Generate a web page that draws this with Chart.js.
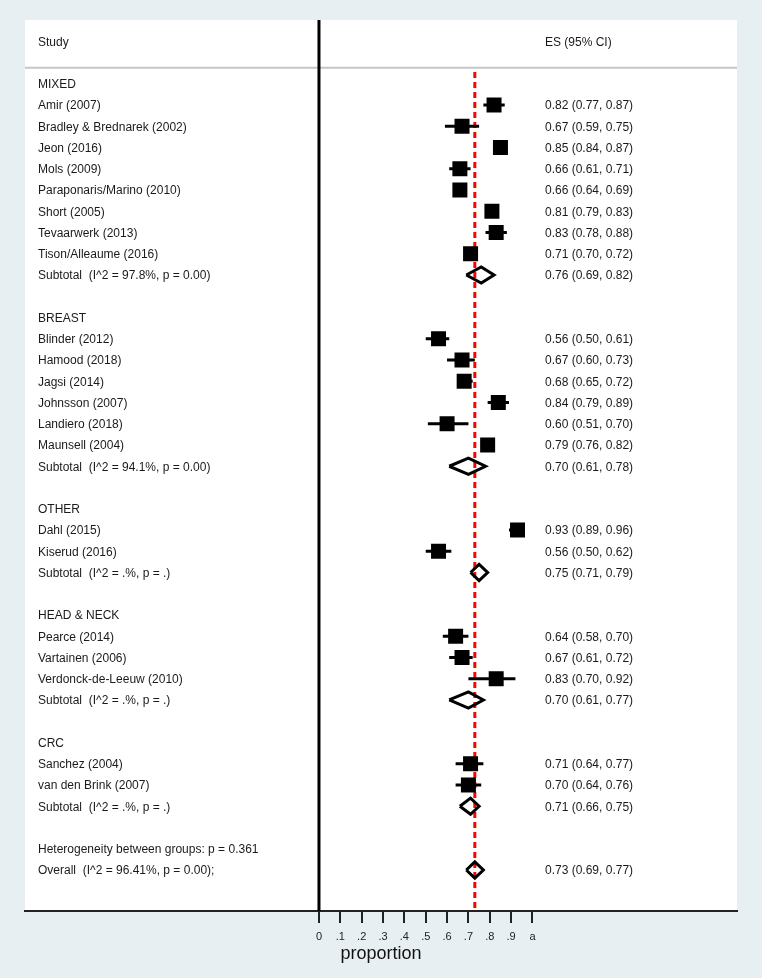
<!DOCTYPE html>
<html>
<head>
<meta charset="utf-8">
<script src="https://cdn.jsdelivr.net/npm/chart.js@4.4.0/dist/chart.umd.min.js"></script>
<style>
  html, body { margin: 0; padding: 0; background: #e8eff2; }
  #wrap { width: 762px; height: 978px; position: relative; }
</style>
</head>
<body>
<div id="wrap"><canvas id="forestChart"></canvas></div>
<script>
// data
var groups = ['MIXED', 'BREAST', 'OTHER', 'HEAD & NECK', 'CRC'];
var studies = [
  'Amir (2007)', 'Bradley & Brednarek (2002)', 'Jeon (2016)', 'Mols (2009)',
  'Paraponaris/Marino (2010)', 'Short (2005)', 'Tevaarwerk (2013)', 'Tison/Alleaume (2016)',
  'Blinder (2012)', 'Hamood (2018)', 'Jagsi (2014)', 'Johnsson (2007)', 'Landiero (2018)', 'Maunsell (2004)',
  'Dahl (2015)', 'Kiserud (2016)',
  'Pearce (2014)', 'Vartainen (2006)', 'Verdonck-de-Leeuw (2010)',
  'Sanchez (2004)', 'van den Brink (2007)'
];
var studyGroup = [0, 0, 0, 0, 0, 0, 0, 0, 1, 1, 1, 1, 1, 1, 2, 2, 3, 3, 3, 4, 4];
var es = [0.82, 0.67, 0.85, 0.66, 0.66, 0.81, 0.83, 0.71, 0.56, 0.67, 0.68, 0.84, 0.60, 0.79, 0.93, 0.56, 0.64, 0.67, 0.83, 0.71, 0.70];
var lo = [0.77, 0.59, 0.84, 0.61, 0.64, 0.79, 0.78, 0.70, 0.50, 0.60, 0.65, 0.79, 0.51, 0.76, 0.89, 0.50, 0.58, 0.61, 0.70, 0.64, 0.64];
var hi = [0.87, 0.75, 0.87, 0.71, 0.69, 0.83, 0.88, 0.72, 0.61, 0.73, 0.72, 0.89, 0.70, 0.82, 0.96, 0.62, 0.70, 0.72, 0.92, 0.77, 0.76];

var subLabels = [
  'Subtotal  (I^2 = 97.8%, p = 0.00)',
  'Subtotal  (I^2 = 94.1%, p = 0.00)',
  'Subtotal  (I^2 = .%, p = .)',
  'Subtotal  (I^2 = .%, p = .)',
  'Subtotal  (I^2 = .%, p = .)'
];
var subEs = [0.76, 0.70, 0.75, 0.70, 0.71];
var subLo = [0.69, 0.61, 0.71, 0.61, 0.66];
var subHi = [0.82, 0.78, 0.79, 0.77, 0.75];

var hetText = 'Heterogeneity between groups: p = 0.361';
var overallLabel = 'Overall  (I^2 = 96.41%, p = 0.00);';
var overallEs = 0.73, overallLo = 0.69, overallHi = 0.77;

var tickVals = [0, 0.1, 0.2, 0.3, 0.4, 0.5, 0.6, 0.7, 0.8, 0.9, 1];
var tickLabels = ['0', '.1', '.2', '.3', '.4', '.5', '.6', '.7', '.8', '.9', 'a'];

// row layout (one row per line of text)
var rows = [];   // {label, est, lo, hi, kind}
groups.forEach(function (g, gi) {
  rows.push({ label: g, kind: 'head' });
  studies.forEach(function (s, i) {
    if (studyGroup[i] === gi) rows.push({ label: s, est: es[i], lo: lo[i], hi: hi[i], kind: 'study' });
  });
  rows.push({ label: subLabels[gi], est: subEs[gi], lo: subLo[gi], hi: subHi[gi], kind: 'sub' });
  rows.push({ label: '', kind: 'blank' });
});
rows.push({ label: hetText, kind: 'head' });
rows.push({ label: overallLabel, est: overallEs, lo: overallLo, hi: overallHi, kind: 'sub' });

var yMin = -3, yMax = 38.93;
var xMin = -1.377, xMax = 1.958;
var dh = 0.38; // diamond half height in rows

var whiskers = [], squares = [], diamonds = [];
rows.forEach(function (r, i) {
  if (r.kind === 'study') {
    whiskers.push({ x: r.lo, y: i }, { x: r.hi, y: i }, { x: r.hi, y: null });
    squares.push({ x: r.est, y: i });
  } else if (r.kind === 'sub') {
    diamonds.push({ x: r.lo, y: i }, { x: r.est, y: i - dh }, { x: r.hi, y: i },
      { x: r.est, y: i + dh }, { x: r.lo, y: i }, { x: r.lo, y: null });
  }
});

var FONT = '"Liberation Sans", Arial, Helvetica, sans-serif';

var bgPlugin = {
  id: 'bg',
  beforeDraw: function (chart) {
    var c = chart.ctx, a = chart.chartArea;
    c.save();
    c.fillStyle = '#e8eff2';
    c.fillRect(0, 0, chart.width, chart.height);
    c.fillStyle = '#ffffff';
    c.fillRect(a.left, a.top, a.right - a.left, a.bottom - a.top);
    c.restore();
  }
};

var textPlugin = {
  id: 'rowText',
  afterDatasetsDraw: function (chart) {
    var c = chart.ctx, y = chart.scales.y, a = chart.chartArea;
    c.save();
    c.font = '12px ' + FONT;
    c.fillStyle = '#1a1a1a';
    c.textBaseline = 'middle';
    c.textAlign = 'left';
    c.fillText('Study', a.left + 13, y.getPixelForValue(-2) + 1);
    c.fillText('ES (95% CI)', a.left + 520, y.getPixelForValue(-2) + 1);
    rows.forEach(function (r, i) {
      var py = y.getPixelForValue(i) + 1;
      if (r.label) c.fillText(r.label, a.left + 13, py);
      if (r.est !== undefined) {
        c.fillText(r.est.toFixed(2) + ' (' + r.lo.toFixed(2) + ', ' + r.hi.toFixed(2) + ')', a.left + 520, py);
      }
    });
    c.restore();
  }
};

var ctx = document.getElementById('forestChart').getContext('2d');
var forest = new Chart(ctx, {
  type: 'scatter',
  data: {
    datasets: [
      {
        // header separator
        data: [{ x: xMin, y: -0.75 }, { x: xMax, y: -0.75 }],
        showLine: true, borderColor: '#c6c6c6', borderWidth: 2, pointRadius: 0, order: 20
      },
      {
        // null line at 0
        data: [{ x: 0, y: yMin }, { x: 0, y: yMax }],
        showLine: true, borderColor: '#000000', borderWidth: 3, pointRadius: 0, order: 15
      },
      {
        // overall effect line
        data: [{ x: overallEs, y: -0.55 }, { x: overallEs, y: yMax }],
        showLine: true, borderColor: '#ff0000', borderWidth: 3, borderDash: [6, 4], pointRadius: 0, order: 10
      },
      {
        data: whiskers, showLine: true, spanGaps: false,
        borderColor: '#000000', borderWidth: 3, pointRadius: 0, order: 3
      },
      {
        data: squares, pointStyle: 'rect', pointRadius: 15 / (2 * Math.SQRT1_2),
        backgroundColor: '#000000', borderWidth: 0, order: 2
      },
      {
        data: diamonds, showLine: true, spanGaps: false,
        borderColor: '#000000', borderWidth: 3, borderJoinStyle: 'miter', pointRadius: 0, order: 1
      }
    ]
  },
  options: {
    responsive: true,
    maintainAspectRatio: false,
    animation: false,
    events: [],
    layout: { padding: { left: 25, right: 25, top: 20, bottom: 0 } },
    plugins: { legend: { display: false }, tooltip: { enabled: false } },
    scales: {
      x: {
        type: 'linear', min: xMin, max: xMax,
        afterBuildTicks: function (axis) {
          axis.ticks = tickVals.map(function (v) { return { value: v }; });
        },
        afterFit: function (axis) { axis.height = 67; },
        ticks: {
          autoSkip: false, maxRotation: 0, padding: 7,
          color: '#222', font: { size: 11, family: FONT },
          callback: function (v, i) { return tickLabels[i]; }
        },
        grid: { display: true, drawOnChartArea: false, drawTicks: true, tickLength: 12, color: '#222', lineWidth: 2 },
        border: { display: true, color: '#222', width: 2 },
        title: {
          display: true, text: 'proportion', color: '#111',
          font: { size: 18, family: FONT }, padding: { top: 0, bottom: 13 }
        }
      },
      y: { type: 'linear', reverse: true, min: yMin, max: yMax, display: false }
    }
  },
  plugins: [bgPlugin, textPlugin]
});
</script>
</body>
</html>
